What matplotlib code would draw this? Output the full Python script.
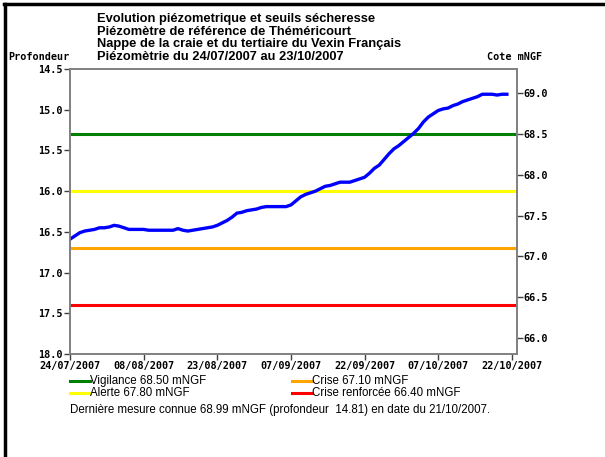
import numpy as np
import pandas as pd
import matplotlib
matplotlib.use('Agg')
import matplotlib.pyplot as plt
import matplotlib.dates as mdates
from matplotlib.lines import Line2D

# profondeur journaliere (m) a partir du 24/07/2007
start_date = '2007-07-24'
depth = [16.59, 16.55, 16.51, 16.49, 16.48, 16.47, 16.45, 16.45, 16.44, 16.42,
         16.43, 16.45, 16.47, 16.47, 16.47, 16.47, 16.48, 16.48, 16.48, 16.48,
         16.48, 16.48, 16.46, 16.48, 16.49, 16.48, 16.47, 16.46, 16.45, 16.44,
         16.42, 16.39, 16.36, 16.32, 16.27, 16.26, 16.24, 16.23, 16.22, 16.20,
         16.19, 16.19, 16.19, 16.19, 16.19, 16.17, 16.12, 16.07, 16.04, 16.02,
         16.00, 15.97, 15.94, 15.93, 15.91, 15.89, 15.89, 15.89, 15.87, 15.85,
         15.83, 15.78, 15.72, 15.68, 15.61, 15.54, 15.48, 15.44, 15.39, 15.34,
         15.29, 15.23, 15.15, 15.09, 15.05, 15.01, 14.99, 14.98, 14.95, 14.93,
         14.90, 14.88, 14.86, 14.84, 14.81, 14.81, 14.81, 14.82, 14.81, 14.81]

ref_level = 83.80  # cote = ref_level - profondeur

seuil_names = ['Vigilance', 'Alerte', 'Crise', 'Crise renforcée']
seuil_values = [68.50, 67.80, 67.10, 66.40]
seuil_colors = ['#008000', '#ffff00', '#ffa500', '#ff0000']

tick_dates = ['2007-07-24', '2007-08-08', '2007-08-23', '2007-09-07',
              '2007-09-22', '2007-10-07', '2007-10-22']
left_ticks = [14.5, 15.0, 15.5, 16.0, 16.5, 17.0, 17.5, 18.0]
right_ticks = [66.0, 66.5, 67.0, 67.5, 68.0, 68.5, 69.0]

titles = ['Evolution piézometrique et seuils sécheresse',
          'Piézomètre de référence de Théméricourt',
          'Nappe de la craie et du tertiaire du Vexin Français',
          'Piézomètrie du 24/07/2007 au 23/10/2007']

dates = pd.date_range(start_date, periods=len(depth))

fig = plt.figure(figsize=(6.05, 4.57), dpi=100)
W, H = 605, 457

def fx(px):
    return px / W

def fy(py):
    return 1 - py / H

ax = fig.add_axes([fx(70), fy(354), fx(516.7) - fx(70), fy(69) - fy(354)])
ax2 = ax.twinx()

mono = dict(family='DejaVu Sans Mono', weight='bold', size=7.3)

for v, c in zip(seuil_values, seuil_colors):
    ax.axhline(ref_level - v, color=c, lw=2.2, zorder=2)
ax.plot(dates, depth, color='#0000ff', lw=2.4, zorder=3)

ax.set_xlim(pd.Timestamp('2007-07-24'), pd.Timestamp('2007-10-23'))
ax.set_ylim(18.0, 14.5)
ax2.set_ylim(ref_level - 18.0, ref_level - 14.5)

ax.set_yticks(left_ticks)
ax.set_yticklabels(['%.1f' % t for t in left_ticks], **mono)
ax2.set_yticks(right_ticks)
ax2.set_yticklabels(['%.1f' % t for t in right_ticks], **mono)
ax.set_xticks([pd.Timestamp(d) for d in tick_dates])
ax.xaxis.set_major_formatter(mdates.DateFormatter('%d/%m/%Y'))
for lab in ax.get_xticklabels():
    lab.set_fontproperties(matplotlib.font_manager.FontProperties(**mono))

for a in (ax, ax2):
    for s in a.spines.values():
        s.set_color('#808080')
        s.set_linewidth(1.2)
    a.tick_params(length=4, width=1, color='#404040', pad=1)
ax.tick_params(axis='x', pad=1)

# titres
for i, t in enumerate(titles):
    fig.text(fx(97), fy(19 + 12.7 * i), t, family='Liberation Sans',
             weight='bold', size=9.3, va='center', ha='left')
fig.text(fx(8), fy(57), 'Profondeur', va='center', ha='left', **mono)
fig.text(fx(487), fy(57), 'Cote mNGF', va='center', ha='left', **mono)

# legende
leg_x = [70, 292, 70, 292]
leg_y = [381, 381, 393, 393]
order = [0, 2, 1, 3]
for k, i in enumerate(order):
    x0, y0 = leg_x[k], leg_y[k]
    fig.add_artist(Line2D([fx(x0), fx(x0 + 20)], [fy(y0), fy(y0)],
                          color=seuil_colors[i], lw=2.2))
    fig.text(fx(x0 + 20), fy(y0), '%s %.2f mNGF' % (seuil_names[i], seuil_values[i]),
             family='Liberation Sans', size=8.3, va='center', ha='left')

last_cote = ref_level - depth[-1]
fig.text(fx(70), fy(410),
         'Dernière mesure connue %.2f mNGF (profondeur  %.2f) en date du %s.'
         % (last_cote, depth[-1], dates[-1].strftime('%d/%m/%Y')),
         family='Liberation Sans', size=8.3, va='center', ha='left')

# cadre
fig.add_artist(Line2D([fx(4), fx(603)], [fy(4), fy(4)], color='black', lw=2.5))
fig.add_artist(Line2D([fx(5), fx(5)], [fy(4), fy(457)], color='black', lw=2.5))

fig.savefig('out.png', dpi=100)
